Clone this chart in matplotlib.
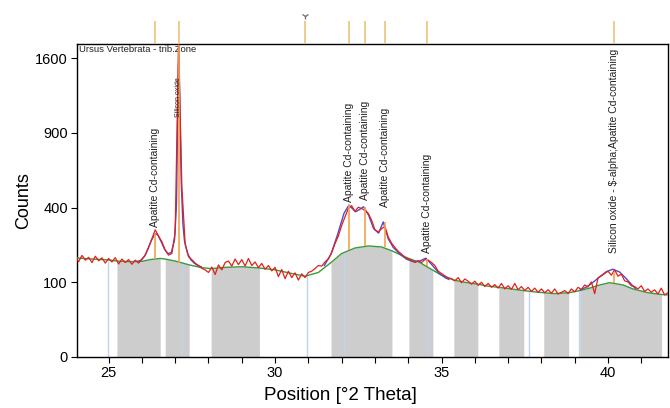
import numpy as np
import matplotlib
matplotlib.use("Agg")
from matplotlib import pyplot as plt

plt.rcParams['font.family'] = ['Liberation Sans', 'DejaVu Sans']

# measured scan, 0.1 deg steps starting at 24.0 (one line per degree)
counts = [
    180, 163, 185, 168, 178, 160, 182, 166, 176, 158,   # 24
    174, 162, 177, 155, 172, 160, 170, 154, 168, 158,   # 25
    172, 186, 215, 250, 290, 262, 238, 205, 186, 192,   # 26
    280, 1750, 520, 228, 180, 170, 158, 150, 141, 136,  # 27
    128, 145, 122, 152, 136, 160, 165, 148, 172, 153,   # 28
    170, 148, 174, 150, 162, 143, 157, 138, 150, 133,   # 29
    144, 116, 137, 110, 132, 113, 127, 106, 124, 113,   # 30
    128, 132, 140, 150, 148, 162, 172, 195, 230, 262,   # 31
    310, 352, 395, 410, 380, 402, 395, 385, 370, 335,   # 32
    290, 280, 295, 305, 258, 232, 215, 200, 190, 178,   # 33
    172, 168, 160, 166, 160, 170, 168, 160, 150, 132,   # 34
    125, 118, 112, 110, 104, 113, 99, 109, 103, 95,     # 35
    103, 92, 100, 89, 97, 87, 94, 85, 97, 83,           # 36
    91, 82, 97, 81, 89, 79, 87, 77, 85, 75,             # 37
    83, 74, 81, 73, 83, 71, 75, 79, 72, 83,             # 38
    76, 87, 82, 93, 88, 101, 72, 112, 118, 125,         # 39
    132, 120, 136, 117, 123, 104, 101, 91, 89, 83,      # 40
    91, 77, 83, 75, 81, 71, 85, 69, 74,                 # 41
]
scan_start = 24.0
scan_step = 0.1

# background (green)
bg_x = [24.0, 24.5, 24.98, 25.25, 25.6, 26.0, 26.3, 26.55, 26.7, 27.0, 27.2, 27.42,
        27.8, 28.08, 28.5, 29.0, 29.53, 30.0, 30.5, 30.9, 31.3, 31.68, 32.0, 32.4,
        32.8, 33.2, 33.51, 33.8, 34.02, 34.35, 34.74, 35.0, 35.37, 35.7, 36.09, 36.4,
        36.72, 37.1, 37.47, 37.8, 38.07, 38.4, 38.82, 39.15, 39.45, 39.75, 40.05,
        40.45, 40.75, 41.2, 41.61, 41.8]
bg_y = [176, 172, 169, 165, 163, 164, 171, 174, 172, 165, 159, 152,
        143, 140, 144, 146, 142, 136, 125, 117, 128, 160, 192, 213,
        221, 217, 202, 185, 174, 160, 135, 120, 106, 100, 95, 90,
        87, 83, 79, 76, 74, 72, 74, 79, 85, 93, 99,
        93, 83, 74, 70, 69]

# fitted profile (blue), three fitted ranges
fit1_x = [25.88, 25.98, 26.08, 26.18, 26.28, 26.38, 26.42, 26.48, 26.58, 26.68, 26.78,
          26.88, 26.98, 27.04, 27.08, 27.11, 27.14, 27.18, 27.23, 27.28, 27.38, 27.48,
          27.58, 27.68, 27.78]
fit1_y = [164, 168, 182, 208, 243, 268, 272, 266, 238, 208, 192,
          195, 245, 420, 1150, 1740, 1150, 560, 320, 240, 190, 168,
          157, 150, 146]
fit2_x = [31.48, 31.68, 31.88, 32.07, 32.22, 32.32, 32.42, 32.52, 32.66, 32.81, 32.96,
          33.11, 33.25, 33.4, 33.55, 33.75, 33.94, 34.14, 34.34, 34.53, 34.73, 34.93,
          35.12, 35.22]
fit2_y = [150, 190, 270, 370, 414, 395, 378, 388, 404, 360, 295,
          275, 327, 250, 215, 190, 172, 163, 165, 175, 150, 125,
          112, 108]
fit3_x = [39.16, 39.36, 39.55, 39.75, 39.94, 40.14, 40.34, 40.53, 40.73, 40.83]
fit3_y = [80, 88, 100, 115, 130, 138, 130, 112, 92, 84]

# background ranges (grey)
ranges = [(25.25, 26.55), (26.7, 27.42), (28.08, 29.53), (31.68, 33.51), (34.02, 34.74),
          (35.37, 36.09), (36.72, 37.47), (38.07, 38.82), (39.15, 41.61)]

# peak list
peak_pos = [26.40, 27.11, 32.22, 32.70, 33.30, 34.56, 40.17]
peak_bg = [173, 160, 205, 220, 215, 150, 97]
peak_top = [272, 1740, 414, 404, 327, 172, 130]
peak_names = ["Apatite Cd-containing", "Silicon oxide", "Apatite Cd-containing",
              "Apatite Cd-containing", "Apatite Cd-containing", "Apatite Cd-containing",
              "Silicon oxide - \\$-alpha;Apatite Cd-containing"]
label_base = [303, 1032, 431, 443, 404, 195, 195]
label_size = [7.5, 5, 7.5, 7.5, 7.5, 7.5, 7.5]

# unmatched positions (light blue)
cand_pos = [24.98, 27.2, 30.95, 32.07, 34.59, 37.62, 39.12]
cand_top = [165, 159, 117, 195, 140, 78, 79]

# reference pattern lines above plot
ref_pos = [26.40, 27.11, 30.90, 32.22, 32.70, 33.30, 34.56, 40.17]

two_theta = scan_start + scan_step * np.arange(len(counts))
bg_x = np.array(bg_x)
bg_y = np.array(bg_y)

fig = plt.figure(figsize=(6.7, 4.08), dpi=100)
ax = fig.add_axes([0.1149, 0.125, 0.882, 0.767])
ax.set_yscale('function', functions=(lambda v: np.sqrt(np.clip(v, 0, None)), np.square))

for a, b in ranges:
    m = (bg_x >= a - 1e-6) & (bg_x <= b + 1e-6)
    ax.fill_between(bg_x[m], 0, bg_y[m], color='#CDCDCD', lw=0, zorder=1)

ax.vlines(cand_pos, 0, cand_top, color='#BBD6EE', lw=1.0, zorder=2)
ax.plot(bg_x, bg_y, color='#3A9A3A', lw=1.0, zorder=3)
for fx, fy in [(fit1_x, fit1_y), (fit2_x, fit2_y), (fit3_x, fit3_y)]:
    ax.plot(fx, fy, color='#4B4BD2', lw=1.0, zorder=4)
ax.plot(two_theta, counts, color='#E3201B', lw=0.9, zorder=5)
ax.vlines(peak_pos, peak_bg, peak_top, color='#F2A24A', lw=1.2, zorder=6)

for p, name, base, fs in zip(peak_pos, peak_names, label_base, label_size):
    ax.text(p, base, name, rotation=90, ha='center', va='bottom', fontsize=fs,
            color='#222222', zorder=7)

ax.text(0.004, 0.997, "Ursus Vertebrata - trib.Zone", transform=ax.transAxes,
        ha='left', va='top', fontsize=6.8, color='#222222')

ax.set_xlim(24.05, 41.8)
ax.set_ylim(0, 1755)
ax.set_xticks([25, 30, 35, 40])
ax.set_xticks(range(25, 42), minor=True)
ax.set_yticks([0, 100, 400, 900, 1600])
ax.tick_params(axis='both', which='both', direction='out', length=4, width=0.8,
               labelsize=10.5, pad=2.5)
for s in ax.spines.values():
    s.set_linewidth(1.0)

ax.set_xlabel("Position [°2 Theta]", fontsize=13.5)
ax.xaxis.set_label_coords(0.445, -0.095)
ax.set_ylabel("Counts", fontsize=13)
ax.yaxis.set_label_coords(-0.076, 0.5)

# reference strip
axt = fig.add_axes([0.1149, 0.892, 0.882, 0.064])
axt.set_xlim(24.05, 41.8)
axt.set_ylim(0, 1)
axt.axis('off')
axt.vlines(ref_pos, 0, 0.88, color='#EEC27E', lw=1.2)
axt.plot([30.90], [1.08], marker='1', color='#777777', markersize=5, clip_on=False)

fig.savefig("out.png", dpi=100)
